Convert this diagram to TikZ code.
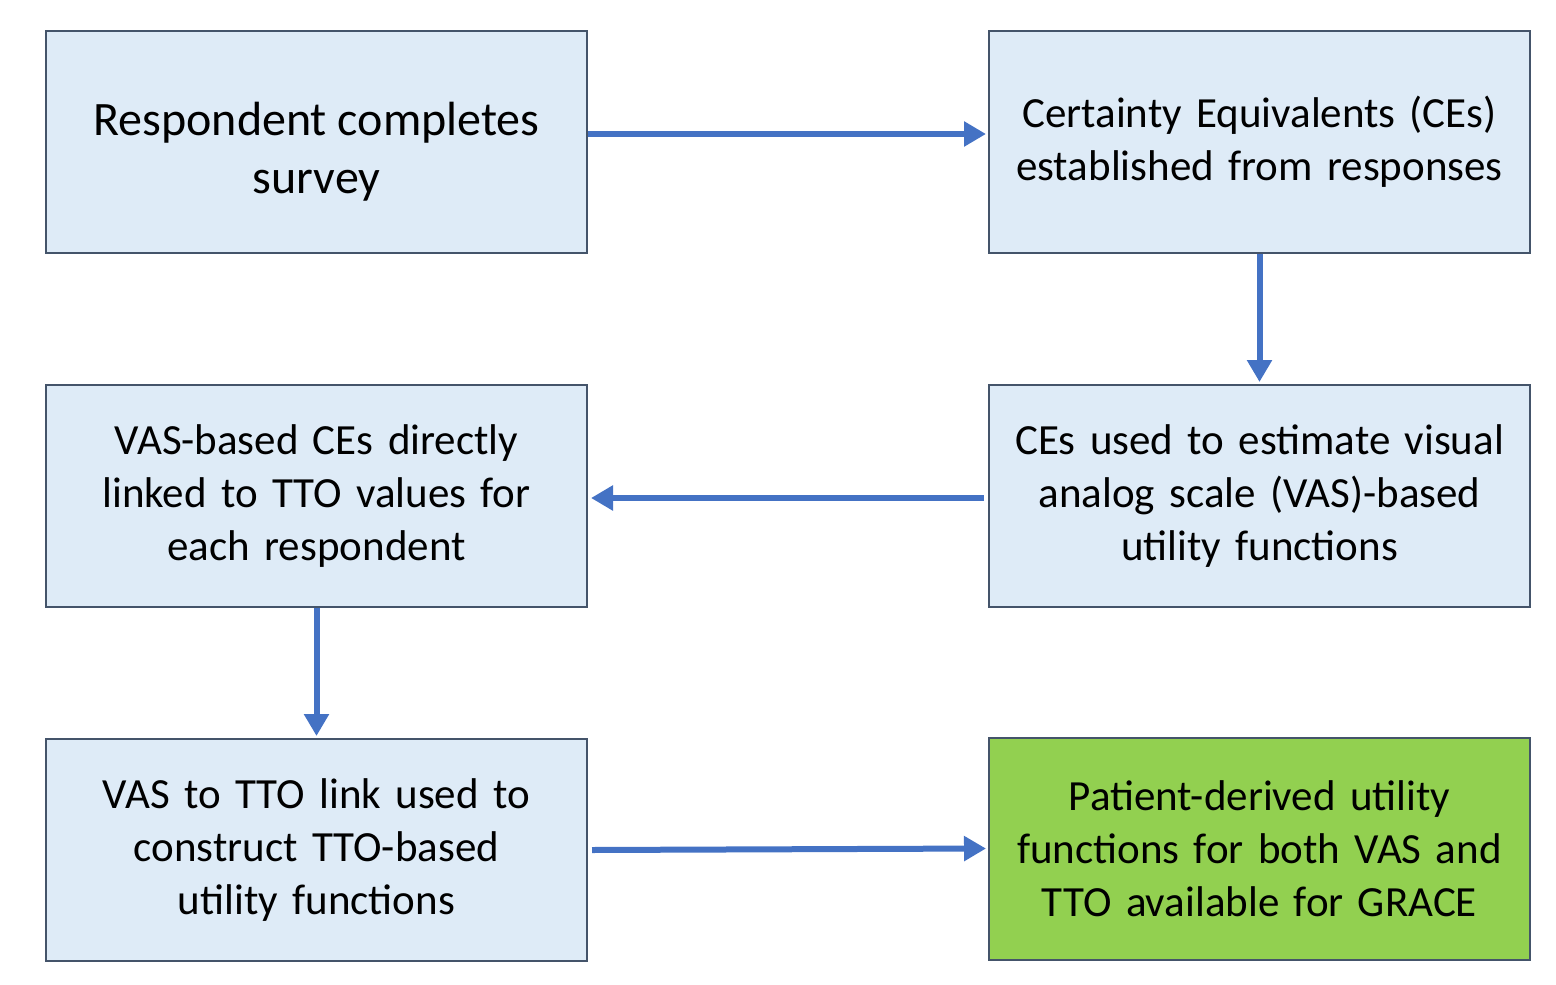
\documentclass[tikz,border=0pt]{standalone}
\usepackage{fontspec}
\setmainfont{Carlito}
\usetikzlibrary{arrows.meta}
\definecolor{boxfill}{HTML}{DEEBF7}
\definecolor{boxline}{HTML}{44546A}
\definecolor{arrowc}{HTML}{4472C4}
\definecolor{greenfill}{HTML}{92D050}
\begin{document}
\begin{tikzpicture}[x=0.5pt,y=-0.5pt,
  stepbox/.style={draw=boxline, line width=1pt, fill=boxfill, minimum width=270.5pt, minimum height=111pt, text width=262pt, align=center, inner sep=0pt, font=\fontsize{21.5}{26.5}\selectfont},
  arr/.style={draw=arrowc, line width=3pt, -{Triangle[length=11pt,width=12pt]}}]
\useasboundingbox (0,0) rectangle (1556,984);
\node[stepbox] (A) at (316.5,142) {};
\node[font=\fontsize{24}{29}\selectfont, align=center, inner sep=0pt] (At) at ([yshift=-5pt]A.center) {Respondent completes\\survey};
\node[stepbox] (B) at (1259.5,142) {Certainty Equivalents (CEs)\\established from responses};
\node[stepbox] (C) at (1259.5,496) {CEs used to estimate visual\\analog scale (VAS)-based\\utility functions};
\node[stepbox] (D) at (316.5,496) {VAS-based CEs directly\\linked to TTO values for\\each respondent};
\node[stepbox] (E) at (316.5,850) {VAS to TTO link used to\\construct TTO-based\\utility functions};
\node[stepbox, fill=greenfill] (F) at (1259.5,848.5) {Patient-derived utility\\functions for both VAS and\\TTO available for GRACE};
\draw[arr] ([yshift=4pt]A.east) -- ([yshift=4pt,xshift=-1pt]B.west);
\draw[arr] (B.south) -- ([yshift=1pt]C.north);
\draw[arr] ([yshift=-1pt,xshift=-2pt]C.west) -- ([yshift=-1pt,xshift=1.5pt]D.east);
\draw[arr] (D.south) -- ([yshift=1pt]E.north);
\draw[arr] ([xshift=2pt]E.east) -- ([xshift=-1pt]F.west);
\end{tikzpicture}
\end{document}
